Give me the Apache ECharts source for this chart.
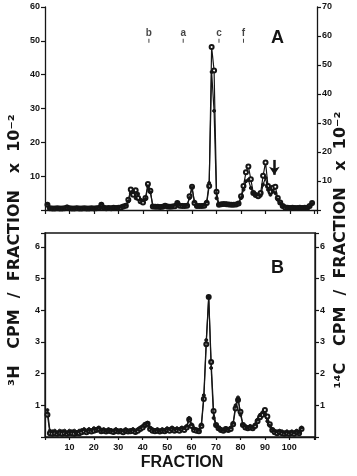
<!DOCTYPE html>
<html>
<head>
<meta charset="utf-8">
<script src="https://cdn.jsdelivr.net/npm/echarts@6/dist/echarts.min.js"></script>
<style>
  html, body { margin: 0; padding: 0; background: #fff; }
  #main { width: 357px; height: 476px; }
</style>
</head>
<body>
<div id="main"></div>
<script>
// panel A, fractions 1..109 (3H on left scale, 14C on right scale)
var aH3 = [1.8,0.6,0.5,0.5,0.6,0.5,0.5,0.6,1.0,0.6, 0.5,0.5,0.7,0.5,0.5,0.5,0.6,0.5,0.5,0.5,
           0.6,0.8,1.8,0.8,0.6,0.6,0.7,0.6,0.7,0.8, 1.0,1.2,1.5,2.5,5.0,5.5,3.5,4.8,3.0,2.8,
           3.2,7.0,5.2,1.2,1.0,1.0,1.0,0.9,1.5,1.0, 1.0,1.2,1.5,2.2,1.6,1.5,1.2,1.5,3.5,6.5,
           2.5,1.3,1.2,1.3,1.5,2.5,8.0,40.8,29.3,3.5, 1.5,1.8,1.8,1.9,1.7,1.6,1.5,1.6,2.0,3.5,
           6.0,8.5,8.9,6.5,5.0,4.5,4.5,4.2,7.5,9.5, 6.0,4.5,5.5,5.0,3.0,2.0,1.3,1.0,0.8,0.7,
           0.6,0.7,0.6,0.6,0.7,0.6,0.7,1.0,1.8];
var aC14 = [1.8,0.6,0.5,0.5,0.6,0.5,0.5,0.6,0.9,0.6, 0.5,0.5,0.6,0.5,0.5,0.6,0.5,0.5,0.6,0.5,
            0.6,0.7,1.8,0.8,0.6,0.7,0.6,0.8,0.7,0.8, 0.9,1.2,1.5,3.5,7.1,5.3,6.8,4.1,3.0,2.6,
            4.1,9.0,6.6,1.2,1.1,1.1,1.0,1.1,1.5,1.2, 1.1,1.2,1.3,2.4,1.5,1.4,1.4,1.5,4.7,8.0,
            2.4,1.4,1.4,1.4,1.5,2.4,8.3,56.2,48.1,6.3, 1.8,2.0,2.1,2.0,1.9,1.8,1.8,1.9,2.2,4.7,
            8.3,13.0,15.0,10.6,5.9,5.2,4.7,5.9,11.8,16.4, 8.3,6.3,7.7,8.0,4.1,2.6,1.4,0.9,0.8,0.7,
            0.8,0.7,0.7,0.8,0.7,0.8,0.8,1.4,2.4];

// panel B, fractions 1..105
var bH3 = [0.85,0.2,0.18,0.2,0.15,0.2,0.18,0.2,0.15,0.2, 0.18,0.2,0.15,0.2,0.22,0.25,0.2,0.25,0.22,0.28,
           0.25,0.3,0.22,0.25,0.2,0.25,0.22,0.2,0.25,0.2, 0.22,0.2,0.25,0.2,0.22,0.25,0.2,0.25,0.3,0.35,
           0.42,0.45,0.3,0.25,0.22,0.25,0.2,0.25,0.22,0.28, 0.25,0.3,0.25,0.28,0.25,0.3,0.28,0.35,0.6,0.4,
           0.28,0.25,0.22,0.4,1.32,3.06,4.42,2.18,0.6,0.35, 0.3,0.25,0.22,0.28,0.25,0.3,0.45,1.0,1.25,0.7,
           0.4,0.35,0.3,0.35,0.3,0.4,0.55,0.7,0.78,0.7, 0.5,0.35,0.25,0.2,0.18,0.2,0.18,0.15,0.18,0.15,
           0.18,0.15,0.2,0.15,0.3];
var bC14 = [0.7,0.12,0.1,0.12,0.1,0.13,0.1,0.12,0.1,0.13, 0.12,0.1,0.13,0.12,0.15,0.18,0.15,0.2,0.17,0.2,
            0.22,0.25,0.18,0.2,0.17,0.2,0.18,0.16,0.2,0.17, 0.18,0.15,0.2,0.17,0.18,0.2,0.16,0.2,0.25,0.3,
            0.38,0.42,0.25,0.2,0.18,0.2,0.17,0.2,0.18,0.22, 0.2,0.25,0.2,0.22,0.2,0.25,0.22,0.3,0.55,0.35,
            0.22,0.2,0.18,0.35,1.2,2.93,4.42,2.37,0.82,0.38, 0.28,0.22,0.2,0.25,0.22,0.25,0.4,0.9,1.17,0.8,
            0.38,0.3,0.28,0.3,0.28,0.35,0.5,0.62,0.7,0.85, 0.65,0.4,0.22,0.15,0.12,0.15,0.12,0.1,0.12,0.1,
            0.13,0.1,0.15,0.12,0.25];

// marker letters above panel A
var markNames = ['b', 'a', 'c', 'f'];
var markFrac = [42.4, 56.4, 71, 81];
var markLevel = 50;

var arrowFrac = 93.6, arrowTop = 14.8, arrowTip = 10.4;

function pairs(vals) {
    var out = [];
    for (var i = 0; i < vals.length; i++) out.push([i + 1, vals[i]]);
    return out;
}

var ink = '#151515';
var lbl = { fontSize: 9, fontWeight: 'bold', color: ink, fontFamily: 'Liberation Sans' };

function yAx(grid, pos, max, hideFn) {
    return {
        type: 'value', gridIndex: grid, position: pos, min: 0, max: max, interval: 1,
        axisLine: { show: true, lineStyle: { color: ink, width: 1.3 } },
        axisTick: { show: true, length: 4, lineStyle: { color: ink, width: 1.2 } },
        splitLine: { show: false },
        axisLabel: Object.assign({ margin: 5, formatter: hideFn }, lbl)
    };
}

function lineSeries(data, xi, yi, open) {
    return {
        type: 'line', xAxisIndex: xi, yAxisIndex: yi, data: pairs(data),
        symbol: open ? 'emptyCircle' : 'circle', symbolSize: open ? 4 : 3,
        lineStyle: { color: ink, width: 1.2 },
        itemStyle: { color: ink, borderColor: ink, borderWidth: 1 },
        z: open ? 3 : 4
    };
}

var myChart = echarts.init(document.getElementById('main'));

var yA0 = yAx(0, 'left', 60, function (v) { return v === 0 ? '' : v; });
yA0.interval = 10;
var yA1 = yAx(0, 'right', 70, function (v) { return v === 0 ? '' : v; });
yA1.interval = 10;
var yB0 = yAx(1, 'left', 6.44, function (v) { return (v === 0 || v % 1 !== 0) ? '' : v; });
var yB1 = yAx(1, 'right', 6.44, function (v) { return (v === 0 || v % 1 !== 0) ? '' : v; });

var openA = lineSeries(aC14, 0, 1, true);
var arrowSeries = lineSeries(aH3, 0, 0, false);
arrowSeries.markLine = {
    silent: true, symbol: ['none', 'arrow'], symbolSize: [8, 8],
    lineStyle: { color: ink, width: 2.5, type: 'solid' },
    label: { show: false },
    data: [[{ coord: [arrowFrac, arrowTop] }, { coord: [arrowFrac, arrowTip] }]]
};

var titleFont = 'bold 16px "DejaVu Sans"';

var option = {
    animation: false,
    backgroundColor: '#fff',
    grid: [
        { left: 45, right: 40, top: 7, height: 203 },
        { left: 45, right: 42, top: 233, height: 204, show: true, borderColor: ink, borderWidth: 1.3 }
    ],
    xAxis: [
        {
            type: 'value', gridIndex: 0, min: 0, max: 111, interval: 10,
            axisLine: { lineStyle: { color: ink, width: 1.3 } },
            axisTick: { length: 4, lineStyle: { color: ink, width: 1.2 } },
            axisLabel: { show: false }, splitLine: { show: false }
        },
        {
            type: 'value', gridIndex: 1, min: 0, max: 110.5, interval: 10,
            axisLine: { lineStyle: { color: ink, width: 1.3 } },
            axisTick: { length: 3, lineStyle: { color: ink, width: 1.2 } },
            axisLabel: Object.assign({ margin: 6, formatter: function (v) { return (v === 0 || v > 100) ? '' : v; } }, lbl),
            splitLine: { show: false }
        }
    ],
    yAxis: [yA0, yA1, yB0, yB1],
    series: [
        openA,
        arrowSeries,
        lineSeries(bC14, 1, 2, true),
        lineSeries(bH3, 1, 2, false),
        {
            type: 'scatter', xAxisIndex: 0, yAxisIndex: 0,
            symbol: 'rect', symbolSize: [1, 4],
            itemStyle: { color: ink },
            data: markFrac.map(function (f, i) { return { name: markNames[i], value: [f, markLevel] }; }),
            label: {
                show: true, position: 'top', distance: 1, fontSize: 10, fontWeight: 'bold',
                color: ink, fontFamily: 'Liberation Sans',
                formatter: function (p) { return p.name; }
            }
        }
    ],
    graphic: [
        { type: 'text', x: 271, y: 29, style: { text: 'A', font: 'bold 18px "Liberation Sans"', fill: ink } },
        { type: 'text', x: 271, y: 259, style: { text: 'B', font: 'bold 18px "Liberation Sans"', fill: ink } },
        { type: 'text', x: 182, y: 463, style: { text: 'FRACTION', font: 'bold 16px "Liberation Sans"', fill: ink, textAlign: 'center', textVerticalAlign: 'middle' } },
        { type: 'text', x: 15, y: 250, rotation: Math.PI / 2,
          style: { text: '³H   CPM  /  FRACTION   x  10⁻²', font: titleFont, fill: ink, textAlign: 'center', textVerticalAlign: 'middle' } },
        { type: 'text', x: 341, y: 250, rotation: Math.PI / 2,
          style: { text: '¹⁴C   CPM  /  FRACTION   x  10⁻²', font: titleFont, fill: ink, textAlign: 'center', textVerticalAlign: 'middle' } }
    ]
};

myChart.setOption(option);
</script>
</body>
</html>
